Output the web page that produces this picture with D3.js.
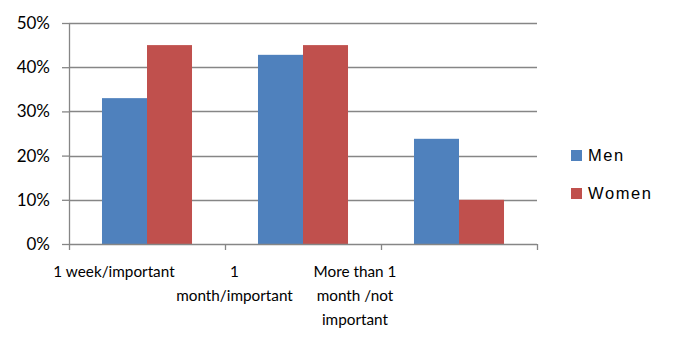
<!DOCTYPE html>
<html>
<head>
<meta charset="utf-8">
<script src="https://cdn.jsdelivr.net/npm/d3@7"></script>
<style>
  html, body { margin: 0; padding: 0; background: #fff; }
  svg { display: block; }
  .axis text { font-family: Lato, "Open Sans", sans-serif; font-size: 15.3px; fill: #000; }
  .axis.y text { font-size: 17px; }
  .legend text { font-family: "Liberation Sans", Arial, sans-serif; font-size: 16.5px; letter-spacing: 1.6px; fill: #000; }
</style>
</head>
<body>
<svg id="chart" width="676" height="348"></svg>
<script>
// Share of respondents by answer, per gender
const categories = ["1 week/important", "1 month/important", "More than 1 month /not important"];
const categoryLines = [["1 week/important"], ["1", "month/important"], ["More than 1", "month /not", "important"]];
const series = ["Men", "Women"];
const men = [0.33, 0.428, 0.238];
const women = [0.45, 0.45, 0.10];
const yTicks = [0, 0.1, 0.2, 0.3, 0.4, 0.5];
const colors = ["#4F81BD", "#C0504D"];

const values = [men, women];
const rows = categories.map((c, i) => ({ category: c, values: series.map((s, j) => ({ key: s, value: values[j][i] })) }));

const svg = d3.select("#chart");
const plot = { left: 69, right: 537, top: 23, bottom: 244 };

const x0 = d3.scaleBand().domain(categories).range([plot.left, plot.right]).paddingInner(0).paddingOuter(0);
const x1 = d3.scaleBand().domain(series).range([0, x0.bandwidth()]).paddingInner(0).paddingOuter(0.733);
const y = d3.scaleLinear().domain([0, 0.5]).range([plot.bottom, plot.top]);
// category labels sit in their own evenly spaced slots
const xLabel = d3.scalePoint().domain(categories).range([114, 355]);

// horizontal gridlines
svg.append("g")
  .selectAll("line")
  .data(yTicks.filter(d => d > 0))
  .join("line")
  .attr("x1", plot.left).attr("x2", plot.right)
  .attr("y1", d => Math.round(y(d)) + 0.5).attr("y2", d => Math.round(y(d)) + 0.5)
  .attr("stroke", "#868686").attr("stroke-width", 1.3);

// bars
svg.append("g")
  .selectAll("g")
  .data(rows)
  .join("g")
  .attr("transform", d => `translate(${x0(d.category)},0)`)
  .selectAll("rect")
  .data(d => d.values)
  .join("rect")
  .attr("x", d => x1(d.key))
  .attr("width", x1.bandwidth())
  .attr("y", d => y(d.value))
  .attr("height", d => y(0) - y(d.value))
  .attr("fill", (d, i) => colors[i]);

// y axis
const yAxis = svg.append("g")
  .attr("class", "axis y")
  .attr("transform", `translate(${plot.left},0)`)
  .call(d3.axisLeft(y).tickValues(yTicks).tickFormat(d3.format(".0%")).tickSize(7).tickPadding(12));
yAxis.selectAll("line, path").attr("stroke", "#868686").attr("stroke-width", 1.3);
yAxis.select("path").attr("d", `M0.5,${plot.top}V${plot.bottom}`);

// x axis with ticks at category boundaries
const xAxis = svg.append("g")
  .attr("class", "axis x")
  .attr("transform", `translate(0,${plot.bottom})`);
xAxis.append("line")
  .attr("x1", plot.left).attr("x2", plot.right)
  .attr("y1", 0.5).attr("y2", 0.5)
  .attr("stroke", "#868686").attr("stroke-width", 1.3);
const bounds = categories.map(c => x0(c)).concat([plot.right]);
xAxis.selectAll(".tick")
  .data(bounds)
  .join("line")
  .attr("x1", d => Math.round(d) + 0.5).attr("x2", d => Math.round(d) + 0.5)
  .attr("y1", 0).attr("y2", 6)
  .attr("stroke", "#868686").attr("stroke-width", 1.3);

const labels = xAxis.selectAll("text.cat")
  .data(categories)
  .join("text")
  .attr("class", "cat")
  .attr("text-anchor", "middle")
  .attr("x", d => xLabel(d));
labels.selectAll("tspan")
  .data((d, i) => categoryLines[i])
  .join("tspan")
  .attr("x", function () { return this.parentNode.getAttribute("x"); })
  .attr("y", (d, i) => 33 + i * 24)
  .text(d => d);

// legend
const legend = svg.append("g").attr("class", "legend")
  .attr("transform", "translate(571,150)");
const items = legend.selectAll("g")
  .data(series)
  .join("g")
  .attr("transform", (d, i) => `translate(0,${i * 38})`);
items.append("rect").attr("width", 11).attr("height", 11).attr("fill", (d, i) => colors[i]);
items.append("text").attr("x", 17).attr("y", 11).text(d => d);
</script>
</body>
</html>
